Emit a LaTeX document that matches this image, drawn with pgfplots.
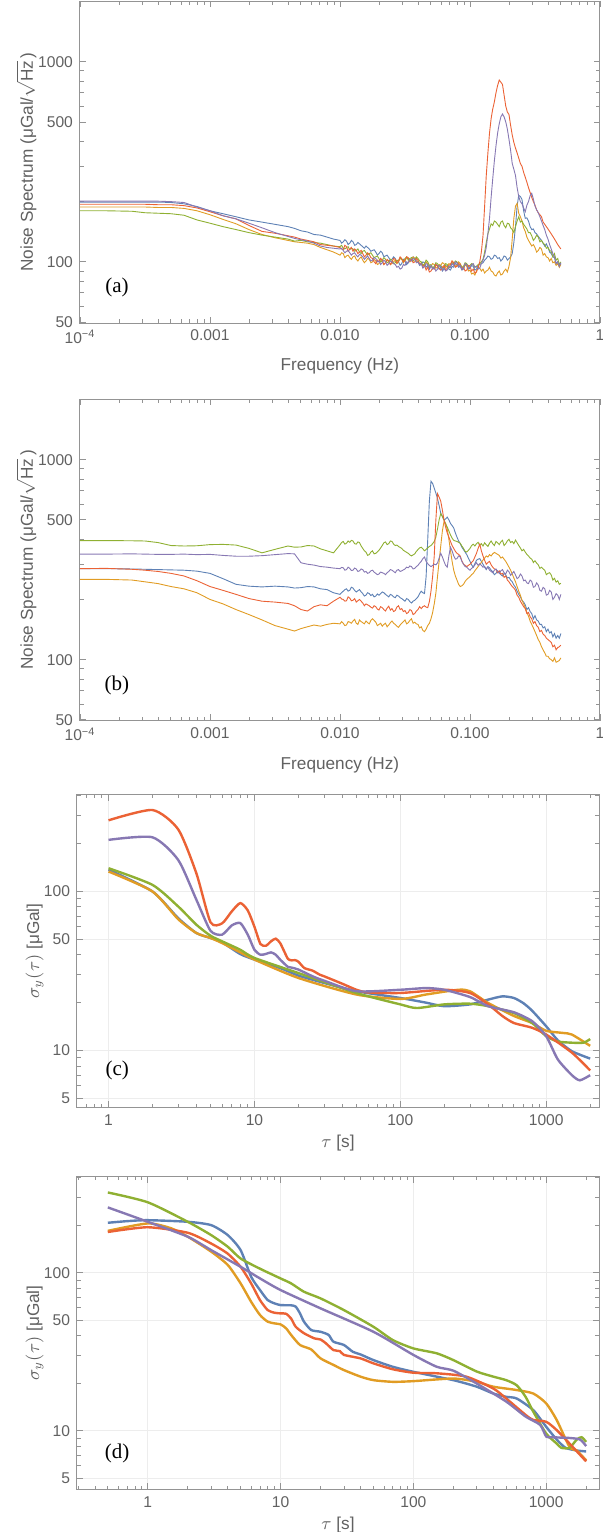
\documentclass[border=0pt]{standalone}
\usepackage{pgfplots}
\pgfplotsset{compat=1.18}
\usepackage{pgfplotstable}
\usepackage{fontspec}
\setmainfont{Liberation Sans}
\newfontfamily\serif{Liberation Serif}
\definecolor{mblue}{rgb}{0.368417,0.506779,0.709798}
\definecolor{morange}{rgb}{0.880722,0.611041,0.142051}
\definecolor{mgreen}{rgb}{0.560181,0.691569,0.194885}
\definecolor{mred}{rgb}{0.922526,0.385626,0.209179}
\definecolor{mpurple}{rgb}{0.528488,0.470624,0.701351}
\definecolor{framec}{gray}{0.58}
\definecolor{textc}{gray}{0.38}

\pgfplotstableread{
f b o g r p
1e-4 199 188 180 194 201
1.585e-4 199 188 180 194 201
2.512e-4 199 188 179 194 201
3.162e-4 199 188 176 194 201
3.981e-4 199 187 175 193 201
5.012e-4 198 187 174 193 200
6.31e-4 195 185 171 191 198
7.943e-4 189 180 162 186 188
1e-3 180 172 156 178 180
1.259e-3 174 163 150 170 170
1.585e-3 168 155 145 164 164
1.995e-3 162 145 140 152 156
2.512e-3 158 137 136 142 148
3.162e-3 154 132 133 139 140
3.981e-3 150 128 130 135 134
4.467e-3 147 126 127 133 131
5.012e-3 143 125 128 130 129
5.623e-3 141 124 126 128 127
6.31e-3 137 122 125 126 124
7.079e-3 136 118 124 122 120
7.943e-3 133 115 122 121 118
8.913e-3 130 112 120 120 117
0.01 128 108 119 118 116
0.01029 124 111 121 116 117
0.01059 126 110 117 115 114
0.0109 129 105 116 121 111
0.01122 127 107 118 119 113
0.01155 122 108 119 113 114
0.01189 124 105 115 116 111
0.01223 128 103 117 118 108
0.01259 126 106 116 113 110
0.01296 121 107 113 116 111
0.01334 122 103 114 114 108
0.01373 125 101 116 110 106
0.01413 123 104 112 112 109
0.01454 121 106 110 114 108
0.01496 119 102 113 110 106
0.0154 117 99 114 106 103
0.01585 120 101 111 108 105
0.01631 118 104 108 111 107
0.01679 116 103 110 109 104
0.01728 113 99 111 105 101
0.01778 114 100 108 104 102
0.0183 115 103 105 100 105
0.01884 112 101 106 98 104
0.01939 108 97 107 102 100
0.01995 110 98 104 100 101
0.02054 113 101 100 104 97
0.02113 111 100 102 102 99
0.02175 106 97 105 97 102
0.02239 107 99 103 99 100
0.02304 108 102 99 103 96
0.02371 105 101 100 101 98
0.02441 102 97 103 97 101
0.02512 103 98 102 100 100
0.02586 106 100 98 104 98
0.02661 104 102 99 103 97
0.02739 99 98 102 99 94
0.02818 100 100 101 101 95
0.02901 96 104 105 106 92
0.02985 98 103 103 104 93
0.03073 103 99 101 100 97
0.03162 101 101 104 102 96
0.03255 97 105 106 106 100
0.0335 99 104 102 105 99
0.03448 103 100 104 101 103
0.03548 102 102 105 103 101
0.03652 106 106 101 99 104
0.03758 104 104 103 100 103
0.03868 101 100 106 104 99
0.03981 100 101 104 102 100
0.04097 96 98 101 97 97
0.04217 97 99 100 98 98
0.0434 100 95 96 95 93
0.04467 99 97 98 96 95
0.04597 94 100 102 91 98
0.04732 96 98 100 94 97
0.0487 92 94 96 89 94
0.05012 95 95 97 90 96
0.05158 94 98 93 93 92
0.05309 93 97 95 92 94
0.05464 97 93 99 97 90
0.05623 96 94 98 95 92
0.05788 92 97 95 93 96
0.05957 94 96 96 91 95
0.06131 90 99 93 94 91
0.0631 92 98 94 96 93
0.06494 96 94 98 91 90
0.06683 95 95 97 93 91
0.06879 92 98 93 96 95
0.07079 91 97 95 97 94
0.07286 95 101 99 101 98
0.07499 94 99 98 99 96
0.07718 98 95 101 94 100
0.07943 97 96 100 95 99
0.08175 94 100 96 98 95
0.08414 95 98 97 97 96
0.0866 91 94 94 92 92
0.08913 92 93 95 94 93
0.09173 97 97 99 90 98
0.09441 96 95 98 91 97
0.09716 92 90 95 96 93
0.1 93 91 96 95 94
0.1029 96 87 98 90 97
0.1059 95 88 97 92 98
0.109 91 86 94 88 94
0.1122 92 90 95 89 95
0.1155 96 94 97 94 92
0.1189 97 93 98 100 93
0.1223 98 90 100 112 98
0.1259 99 92 103 135 102
0.1296 102 88 112 190 108
0.1334 104 90 125 270 118
0.1373 107 91 138 350 138
0.1413 106 94 146 440 165
0.1454 103 90 155 520 210
0.1496 104 89 152 580 260
0.154 108 86 160 630 320
0.1585 107 85 158 700 380
0.1631 104 88 154 760 440
0.1679 105 90 150 810 490
0.1728 101 86 158 790 530
0.1778 103 87 160 770 548
0.183 107 90 152 680 530
0.1884 106 92 148 600 500
0.1939 102 89 156 560 460
0.1995 104 95 155 545 410
0.2054 106 105 148 480 360
0.2113 110 130 145 430 310
0.2175 125 165 140 395 290
0.2239 150 190 150 370 270
0.2304 190 196 160 350 235
0.2371 215 175 168 330 212
0.2441 212 168 158 310 200
0.2512 205 160 160 300 195
0.2586 180 148 154 280 186
0.2661 165 142 150 265 178
0.2739 166 133 146 250 192
0.2818 160 128 140 235 200
0.2901 150 124 140 222 214
0.2985 145 120 135 210 220
0.3073 146 122 128 200 206
0.3162 140 118 131 192 190
0.3255 138 112 136 182 182
0.335 134 114 133 176 176
0.3448 131 118 126 172 168
0.3548 128 116 128 168 160
0.3652 124 108 124 158 152
0.3758 120 110 122 154 145
0.3868 123 106 117 150 136
0.3981 118 105 118 146 130
0.4097 112 101 114 142 122
0.4217 110 104 113 138 116
0.434 106 99 106 134 110
0.4467 105 100 110 130 106
0.4597 98 96 102 126 98
0.4732 100 98 104 122 100
0.4864 95 94 97 119 95
0.5 98 97 100 116 99
}\tableA

\pgfplotstableread{
f b o g r p
1e-4 285 252 394 285 337
1.585e-4 285 252 394 286 337
2.512e-4 284 250 393 283 338
3.162e-4 283 245 392 280 337
3.981e-4 282 240 385 276 336
5.012e-4 281 232 372 270 336
6.31e-4 280 226 370 262 337
7.943e-4 277 216 371 248 335
1e-3 270 200 376 232 336
1.259e-3 254 190 377 222 332
1.585e-3 238 178 374 212 329
1.995e-3 233 168 360 202 329
2.512e-3 231 158 342 196 331
3.162e-3 233 148 356 194 335
3.981e-3 231 142 370 191 339
4.467e-3 228 139 365 186 338
5.012e-3 229 143 366 178 305
5.623e-3 232 146 372 175 300
6.31e-3 231 149 370 184 297
7.079e-3 226 147 358 188 292
7.943e-3 224 150 350 186 290
8.913e-3 216 152 342 196 287
0.01 212 151 375 205 285
0.01029 216 155 385 201 289
0.01059 220 152 390 200 288
0.0109 224 148 378 196 280
0.01122 226 149 382 197 282
0.01155 220 155 392 206 290
0.01189 222 154 386 203 286
0.01223 230 152 395 197 279
0.01259 228 156 392 198 280
0.01296 222 159 380 202 287
0.01334 218 152 378 194 284
0.01373 221 150 388 197 276
0.01413 224 158 385 200 278
0.01454 218 155 370 196 284
0.01496 214 153 360 192 282
0.0154 208 151 350 186 274
0.01585 210 156 345 190 276
0.01631 216 153 332 188 270
0.01679 214 151 335 186 272
0.01728 209 157 345 183 278
0.01778 212 160 350 181 280
0.0183 206 157 338 186 274
0.01884 208 154 340 184 270
0.01939 213 148 346 179 266
0.01995 210 150 352 177 268
0.02054 214 152 362 184 274
0.02113 218 147 372 182 272
0.02175 216 150 384 178 270
0.02239 212 152 388 175 266
0.02304 209 146 376 181 272
0.02371 206 149 380 185 276
0.02441 212 153 392 177 282
0.02512 210 156 390 180 280
0.02586 206 152 378 174 276
0.02661 204 150 372 176 272
0.02739 210 147 374 183 280
0.02818 208 145 368 186 282
0.02901 204 149 364 178 276
0.02985 202 152 360 180 278
0.03073 199 155 352 174 281
0.03162 196 158 348 176 284
0.03255 202 151 344 170 290
0.0335 200 153 340 172 288
0.03448 195 157 334 178 294
0.03548 192 160 330 176 292
0.03652 196 152 334 168 284
0.03758 198 154 338 170 286
0.03868 202 151 348 175 292
0.03981 206 150 355 178 296
0.04097 214 144 362 184 304
0.04217 220 146 365 180 310
0.0434 216 140 358 184 320
0.04467 214 138 350 186 326
0.04597 260 142 356 183 310
0.04732 400 148 362 182 302
0.0487 620 152 368 195 296
0.05012 780 160 372 220 292
0.05158 760 172 380 260 296
0.05309 720 190 390 330 300
0.05464 680 215 410 500 298
0.05623 640 260 450 676 304
0.05788 590 310 500 650 322
0.05957 540 370 537 620 340
0.06131 520 440 520 560 326
0.0631 500 490 500 500 310
0.06494 505 480 478 460 296
0.06683 516 450 460 430 290
0.06879 500 400 440 410 330
0.07079 480 350 420 390 365
0.07286 468 310 405 372 350
0.07499 455 280 395 360 330
0.07718 430 262 392 348 318
0.07943 410 250 390 340 320
0.08175 392 238 386 336 330
0.08414 380 232 382 330 326
0.0866 365 234 370 312 310
0.08913 355 238 360 300 300
0.09173 345 246 348 296 292
0.09441 335 252 345 292 290
0.09716 322 256 352 296 284
0.1 310 260 360 300 280
0.1029 298 266 372 306 286
0.1059 290 270 378 312 290
0.109 302 278 370 326 298
0.1122 314 285 380 340 305
0.1155 318 292 386 360 296
0.1189 320 300 372 378 302
0.1223 310 306 380 350 296
0.1259 300 315 370 330 290
0.1296 290 322 384 314 292
0.1334 282 330 375 300 285
0.1373 292 326 368 306 290
0.1413 288 335 382 310 280
0.1454 280 330 392 298 276
0.1496 275 338 380 290 272
0.154 266 344 372 284 280
0.1585 270 340 390 282 284
0.1631 278 336 384 272 276
0.1679 272 332 376 278 270
0.1728 266 322 388 268 278
0.1778 262 326 395 270 282
0.183 270 318 372 258 272
0.1884 265 310 380 262 268
0.1939 256 300 392 250 280
0.1995 258 290 400 245 275
0.2054 250 280 385 238 264
0.2113 245 268 390 232 270
0.2175 236 256 380 228 276
0.2239 230 245 396 222 265
0.2304 220 232 384 210 254
0.2371 212 220 372 205 258
0.2441 206 210 362 196 268
0.2512 198 198 350 190 262
0.2586 194 190 356 184 248
0.2661 188 182 345 180 250
0.2739 178 172 336 170 242
0.2818 182 165 330 172 240
0.2901 174 156 322 164 250
0.2985 170 150 318 160 246
0.3073 160 144 306 152 230
0.3162 166 138 312 155 232
0.3255 158 132 304 148 242
0.335 156 126 298 145 236
0.3448 150 122 286 138 222
0.3548 150 116 290 140 220
0.3652 144 112 284 134 230
0.3758 146 108 280 132 226
0.3868 138 104 266 128 210
0.3981 142 104 270 126 212
0.4097 136 101 272 124 222
0.4217 138 100 265 122 218
0.434 130 98 250 116 200
0.4467 135 102 255 118 205
0.4597 128 97 244 112 214
0.4732 132 98 248 115 210
0.4864 128 99 238 116 200
0.5 135 102 241 118 212
}\tableB

\pgfplotsset{
  mathstyle/.style={
    scale only axis,
    axis line style={draw=framec, line width=0.5pt},
    every tick/.style={draw=framec, line width=0.4pt},
    tick align=inside, major tick length=3.2pt, minor tick length=1.8pt,
    xtick pos=both, ytick pos=both, xticklabel pos=lower, yticklabel pos=left,
    ticklabel style={font=\fontsize{7.8}{9}\selectfont, text=textc},
    label style={font=\fontsize{8.6}{10}\selectfont, text=textc},
    /pgf/number format/assume math mode=true,
  },
  specstyle/.style={mathstyle,
    xtick={1e-4,1e-3,1e-2,1e-1,1},
    xticklabels={10\textsuperscript{−4},0.001,0.010,0.100,1},
    minor xtick={2e-4,3e-4,4e-4,5e-4,6e-4,7e-4,8e-4,9e-4,2e-3,3e-3,4e-3,5e-3,6e-3,7e-3,8e-3,9e-3,0.02,0.03,0.04,0.05,0.06,0.07,0.08,0.09,0.2,0.3,0.4,0.5,0.6,0.7,0.8,0.9},
    ytick={50,100,500,1000}, yticklabels={50,100,500,1000},
    minor ytick={60,70,80,90,200,300,400,600,700,800,900,2000},
    xlabel={Frequency (Hz)},
    ylabel={Noise Spectrum (μGal/$\sqrt{\mbox{Hz}}$\,)},
    ylabel style={at={(axis description cs:-0.103,0.5)}, anchor=center, inner sep=0pt},
  },
  allanstyle/.style={mathstyle,
    ytick={5,10,50,100}, yticklabels={5,10,50,100},
    minor ytick={6,7,8,9,20,30,40,60,70,80,90,200,300,400},
    xtick={1,10,100,1000}, xticklabels={1,10,100,1000},
    minor xtick={0.3,0.4,0.5,0.6,0.7,0.8,0.9,2,3,4,5,6,7,8,9,20,30,40,50,60,70,80,90,200,300,400,500,600,700,800,900,2000},
    grid=major, major grid style={draw=gray!14, line width=0.4pt},
    xlabel={$\tau$ [s]},
    ylabel={$\sigma_y(\tau)$ [μGal]},
    ylabel style={at={(axis description cs:-0.081,0.5)}, anchor=center},
  },
}

\begin{document}
\begin{tikzpicture}
\useasboundingbox (0,0) rectangle (301.5pt,-766pt);

% (a)
\begin{axis}[xmode=log, ymode=log, specstyle, anchor=north west,
  at={(40pt,-0.5pt)}, width=260pt, height=161pt,
  xmin=1e-4, xmax=1, ymin=49.5, ymax=2010,
  xlabel style={at={(axis description cs:0.5,-0.133)}, anchor=center}]
\addplot[mblue, line width=0.45pt] table[x=f,y=b] {\tableA};
\addplot[morange, line width=0.45pt] table[x=f,y=o] {\tableA};
\addplot[mgreen, line width=0.45pt] table[x=f,y=g] {\tableA};
\addplot[mred, line width=0.45pt] table[x=f,y=r] {\tableA};
\addplot[mpurple, line width=0.45pt] table[x=f,y=p] {\tableA};
\node[font=\serif\fontsize{10.5}{12}\selectfont] at (rel axis cs:0.071,0.109) {(a)};
\end{axis}

% (b)
\begin{axis}[xmode=log, ymode=log, specstyle, anchor=north west,
  at={(40pt,-199.5pt)}, width=260pt, height=160.85pt,
  xmin=1e-4, xmax=1, ymin=49.5, ymax=2010,
  xlabel style={at={(axis description cs:0.5,-0.138)}, anchor=center}]
\addplot[mblue, line width=0.45pt] table[x=f,y=b] {\tableB};
\addplot[morange, line width=0.45pt] table[x=f,y=o] {\tableB};
\addplot[mgreen, line width=0.45pt] table[x=f,y=g] {\tableB};
\addplot[mred, line width=0.45pt] table[x=f,y=r] {\tableB};
\addplot[mpurple, line width=0.45pt] table[x=f,y=p] {\tableB};
\node[font=\serif\fontsize{10.5}{12}\selectfont] at (rel axis cs:0.071,0.111) {(b)};
\end{axis}

% (c)
\begin{axis}[xmode=log, ymode=log, allanstyle, anchor=north west,
  at={(38.5pt,-397.15pt)}, width=261pt, height=156.7pt,
  xmin=0.608, xmax=2300, ymin=4.37, ymax=408,
  xlabel style={at={(axis description cs:0.5,-0.113)}, anchor=center}]
\addplot[mblue, line width=1.2pt, smooth, tension=0.4] coordinates {(1,137)(2,100)(3,68)(4,54.8)(5,51)(6,47.9)(8,40.4)(10,37.3)(15,33)(20,29.6)(30,26.6)(50,23.6)(100,21.4)(150,20)(200,19)(300,19.5)(400,20.9)(500,21.9)(600,21.4)(700,19.8)(800,17.8)(1000,14.2)(1200,11.6)(1500,9.9)(2000,8.9)};
\addplot[morange, line width=1.2pt, smooth, tension=0.4] coordinates {(1,133.5)(2,100)(3,67)(4,54.8)(5,51)(6,47.4)(8,41.4)(10,37.3)(20,28.6)(50,22.5)(100,21.1)(150,22.5)(250,24.1)(300,23.6)(400,19.9)(600,16.5)(800,14.9)(1000,13.3)(1300,12.9)(1500,12.6)(2000,10.7)};
\addplot[mgreen, line width=1.2pt, smooth, tension=0.4] coordinates {(1,140)(2,110)(3,80.5)(4,61.8)(5,52.7)(6,48.6)(8,43)(10,38.2)(20,30.7)(50,23)(100,19.5)(130,18.5)(200,19.5)(300,19.7)(400,19)(600,17.2)(800,14.9)(1000,12.3)(1200,11.4)(1500,11.2)(1800,11.2)(2000,11.8)};
\addplot[mred, line width=1.2pt, smooth, tension=0.4] coordinates {(1,280)(2,325)(3,246)(4,130)(5,64)(6,63)(7,75)(8,84.5)(9,76)(10,60)(11,46.7)(12,45.6)(13,48.6)(14,50.5)(15,47.4)(16,42)(17,37.6)(18,36.9)(19,37)(20,36.2)(22,33)(25,31.8)(28,30)(30,29.3)(40,26.3)(50,24.1)(60,23.2)(100,23)(200,24.1)(300,23)(400,19.5)(500,16.5)(600,14.9)(800,13.9)(1000,12.6)(1500,9.7)(2000,7.5)};
\addplot[mpurple, line width=1.2pt, smooth, tension=0.4] coordinates {(1,211)(2,219)(3,158)(4,88.7)(5,56.6)(6,53.5)(7,61.2)(8,63.3)(9,53.5)(10,43)(11,40)(12,40.5)(13,41.4)(14,40)(15,37.3)(17,33.5)(18,33.2)(20,32.3)(25,29.3)(30,27.5)(50,23.6)(100,24.1)(150,24.7)(200,24.1)(300,21.7)(400,19)(600,17.4)(800,15.3)(1000,12.3)(1200,8.8)(1500,7)(1700,6.5)(2000,7)};
\node[font=\serif\fontsize{10.5}{12}\selectfont] at (rel axis cs:0.077,0.12) {(c)};
\end{axis}

% (d)
\begin{axis}[xmode=log, ymode=log, allanstyle, anchor=north west,
  at={(38.5pt,-588.35pt)}, width=261pt, height=156.3pt,
  xmin=0.293, xmax=2500, ymin=4.26, ymax=405,
  xlabel style={at={(axis description cs:0.5,-0.114)}, anchor=center}]
\addplot[mblue, line width=1.2pt, smooth, tension=0.4] coordinates {(0.5,207)(0.7,212)(1,215)(2,210)(3,200)(4,173)(5,139)(6,94.3)(7,77.7)(8,67.1)(9,64)(10,62.4)(12,62.2)(13,61)(14,55.3)(15,49)(17,43.4)(20,42.3)(23,40.4)(25,36.6)(30,34.9)(35,31.6)(40,30.4)(50,28)(70,25.4)(100,23.6)(200,20.9)(300,19)(400,17.2)(500,16.4)(600,16)(800,13.5)(1000,10.6)(1200,8.8)(1400,7.8)(1700,7.5)(2000,7.4)};
\addplot[morange, line width=1.2pt, smooth, tension=0.4] coordinates {(0.5,184)(1,205)(1.5,191)(2,169)(3,136)(4,112)(5,85.6)(6,65.5)(7,54)(8,49)(9,47.8)(10,47.1)(11,44.5)(12,40.4)(14,34.9)(17,32.7)(20,28.7)(25,26.1)(30,24.2)(40,22)(50,20.9)(70,20.4)(100,20.6)(200,21.4)(300,20.4)(400,19)(600,18.1)(800,17.2)(1000,14.9)(1200,11.7)(1500,7.9)(1700,7.5)(2000,6.5)};
\addplot[mgreen, line width=1.2pt, smooth, tension=0.4] coordinates {(0.5,322)(1,279)(2,210)(3,173)(4,146)(5,123)(7,106)(10,92)(12,85.6)(15,75.8)(20,68.8)(30,58)(50,45.5)(70,37.5)(100,33.2)(150,30.9)(200,28)(300,23.7)(400,22)(500,20.9)(600,19.4)(700,16.4)(800,13.2)(1000,9.6)(1200,8.3)(1300,7.8)(1500,7.8)(1700,8.8)(1850,9.1)(2000,8.5)};
\addplot[mred, line width=1.2pt, smooth, tension=0.4] coordinates {(0.5,181)(1,194)(2,179)(3,153)(4,132)(5,109)(6,85.6)(7,67.1)(8,58)(9,55.8)(10,55.3)(11,55)(12,51.3)(13,45.5)(15,41.4)(18,38.4)(20,37.8)(22,35.7)(25,32.4)(28,31.9)(30,30.2)(40,28.7)(50,26.7)(70,24.5)(100,23.3)(150,23.1)(250,22)(400,18.5)(500,16)(700,12.6)(800,11.7)(1000,11.4)(1200,10.1)(1500,8.3)(2000,6.4)};
\addplot[mpurple, line width=1.2pt, smooth, tension=0.4] coordinates {(0.5,259)(1,210)(2,169)(3,139)(5,109)(7,92)(10,77.7)(20,59.5)(50,42.3)(100,30.2)(150,25.4)(200,24)(300,19.9)(500,15.3)(700,12.3)(900,10.9)(1000,9.2)(1100,9.1)(1500,9)(1800,8.8)(2000,8)};
\node[font=\serif\fontsize{10.5}{12}\selectfont] at (rel axis cs:0.077,0.116) {(d)};
\end{axis}
\end{tikzpicture}
\end{document}
